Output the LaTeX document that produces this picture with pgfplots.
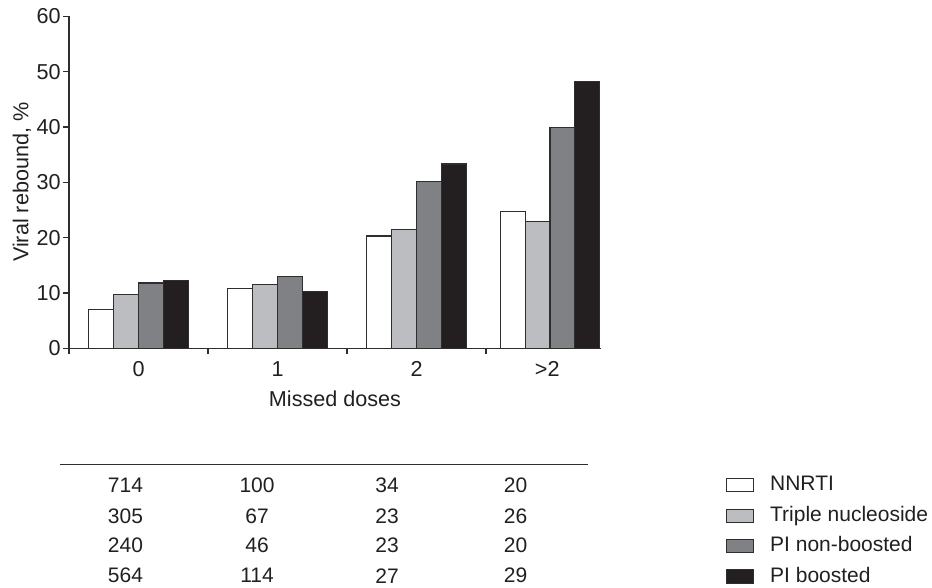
\documentclass[border=0pt]{standalone}
\usepackage{fontspec}
\setmainfont{Liberation Sans}
\usepackage{pgfplots}
\pgfplotsset{compat=1.18}
\definecolor{txt}{HTML}{231F20}
\definecolor{lgray}{HTML}{BCBDC1}
\definecolor{mgray}{HTML}{808185}
\definecolor{dk}{HTML}{231F20}
\definecolor{edge}{HTML}{2E2E2E}
\begin{document}
\fontsize{10.8}{13}\selectfont
\begin{tikzpicture}[font=\fontsize{10.8}{13}\selectfont, text=txt]
\useasboundingbox (-34.5pt,-119.85pt) rectangle (431.5pt,174.15pt);
\begin{axis}[
  scale only axis, width=266pt, height=166pt,
  xmin=0, xmax=3.827, ymin=0, ymax=60,
  axis x line=bottom, axis y line=left,
  axis line style={-, draw=edge, line width=0.6pt},
  ytick={0,10,...,60},
  tick align=outside, major tick length=3pt,
  tick style={draw=edge, line width=0.6pt},
  xtick={0.5,1.5,2.5,3.44}, xticklabels={0,1,2,{>2}},
  xtick style={draw=none},
  extra x ticks={0,1,2,3}, extra x tick labels={},
  extra x tick style={xtick style={draw=edge}},
  yticklabel style={inner xsep=1pt},
  /pgf/number format/assume math mode=true,
  ylabel={Viral rebound, \%},
  ylabel style={at={(axis description cs:-0.0883,0.5)}, anchor=center},
  xlabel={Missed doses},
  xlabel style={at={(axis description cs:0.5,0)}, anchor=center, yshift=-25pt},
  ybar=0pt, bar width=12.45pt,
  clip=false,
  legend cell align=left,
  legend style={draw=none, fill=none, at={(axis cs:4.723,-21.95)}, anchor=north west,
    inner sep=0pt, row sep=0pt, column sep=5.5pt, font=\fontsize{10.5}{12.6}\selectfont,
    nodes={text height=7.6pt, text depth=2pt, inner sep=2.8pt}},
  lg/.style={legend image code/.code={\draw[##1, line width=0.5pt] (0pt,-3.3pt) rectangle (13.3pt,3.3pt);}},
]
\addplot[lg, fill=white, draw=edge, line width=0.55pt] coordinates {(0.5,7.0) (1.5,10.75) (2.5,20.3) (3.46,24.7)};
\addplot[lg, fill=lgray, draw=edge, line width=0.55pt] coordinates {(0.5,9.8) (1.5,11.6) (2.5,21.5) (3.46,22.9)};
\addplot[lg, fill=mgray, draw=edge, line width=0.55pt] coordinates {(0.5,11.8) (1.5,12.9) (2.5,30.2) (3.46,39.9)};
\addplot[lg, fill=dk, draw=edge, line width=0.55pt] coordinates {(0.5,12.3) (1.5,10.3) (2.5,33.3) (3.46,48.2)};
\legend{NNRTI, Triple nucleoside, PI non-boosted, PI boosted}
\draw[draw=edge, line width=0.6pt] (axis cs:-0.065,-21.07) -- (axis cs:3.734,-21.07);
\begin{scope}[font=\fontsize{10.5}{12.6}\selectfont]
\node[anchor=center] at (axis cs:0.406,-24.7) {714};
\node[anchor=center] at (axis cs:1.353,-24.7) {100};
\node[anchor=center] at (axis cs:2.288,-24.7) {34};
\node[anchor=center] at (axis cs:3.212,-24.7) {20};
\node[anchor=center] at (axis cs:0.406,-30.3) {305};
\node[anchor=center] at (axis cs:1.353,-30.3) {67};
\node[anchor=center] at (axis cs:2.288,-30.3) {23};
\node[anchor=center] at (axis cs:3.212,-30.3) {26};
\node[anchor=center] at (axis cs:0.406,-35.6) {240};
\node[anchor=center] at (axis cs:1.353,-35.6) {46};
\node[anchor=center] at (axis cs:2.288,-35.6) {23};
\node[anchor=center] at (axis cs:3.212,-35.6) {20};
\node[anchor=center] at (axis cs:0.406,-41.1) {564};
\node[anchor=center] at (axis cs:1.353,-41.1) {114};
\node[anchor=center] at (axis cs:2.288,-41.1) {27};
\node[anchor=center] at (axis cs:3.212,-41.1) {29};
\end{scope}
\end{axis}
\end{tikzpicture}
\end{document}
